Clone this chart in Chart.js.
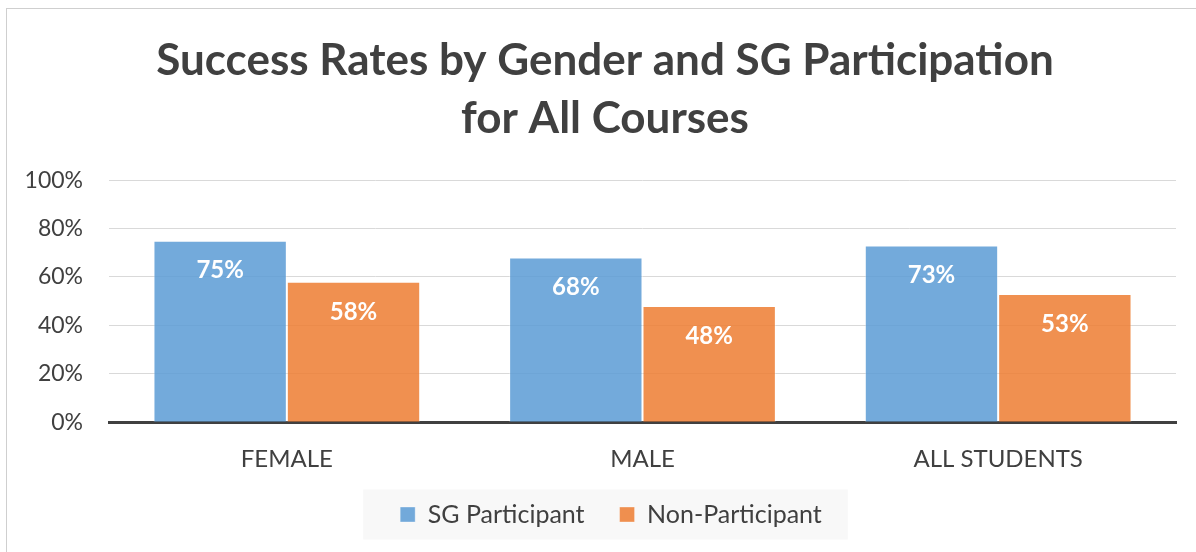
<!DOCTYPE html>
<html lang="en">
  <head>
    <meta charset="UTF-8" />
    <title>Success Rates</title>
    <script src="https://cdn.jsdelivr.net/npm/chart.js@4"></script>
    <style>
      html, body { margin: 0; padding: 0; background: #fff; overflow: hidden; width: 1196px; height: 552px; }
      #box { position: absolute; left: 6px; top: 8px; width: 1198px; height: 553px; border: 1px solid #cfcfcf; box-sizing: border-box; }
    </style>
  </head>
  <body>
    <div id="box"><canvas id="Graph"></canvas></div>

    <script>
      const categories = ['FEMALE', 'MALE', 'ALL STUDENTS'];
      const sgParticipant = [75, 68, 73];
      const nonParticipant = [58, 48, 53];
      const seriesNames = ['SG Participant', 'Non-Participant'];

      const textColor = '#404040';
      const fontFamily = 'Lato, "Open Sans", sans-serif';

      // white bold value labels inside the top of each bar
      const barLabels = {
        id: 'barLabels',
        afterDatasetsDraw(chart) {
          const ctx = chart.ctx;
          ctx.save();
          ctx.fillStyle = '#ffffff';
          ctx.font = 'bold 24px ' + fontFamily;
          ctx.textAlign = 'center';
          ctx.textBaseline = 'middle';
          chart.data.datasets.forEach((ds, i) => {
            chart.getDatasetMeta(i).data.forEach((bar, j) => {
              ctx.fillText(ds.data[j] + '%', bar.x, bar.y + 30);
            });
          });
          ctx.restore();
        }
      };

      // centre title and legend on the whole frame, not just left of the right padding
      const centreBlocks = {
        id: 'centreBlocks',
        afterLayout(chart) {
          [[chart.titleBlock, 0], [chart.legend, 12]].forEach(([b, left]) => {
            if (!b) return;
            b.left = left;
            b.right = chart.width;
            b.width = chart.width - left;
          });
        }
      };

      // light grey panel behind the legend
      const legendPanel = {
        id: 'legendPanel',
        beforeDraw(chart) {
          const boxes = chart.legend.legendHitBoxes;
          if (!boxes || !boxes.length) return;
          const left = Math.min(...boxes.map(b => b.left)) - 37;
          const right = Math.max(...boxes.map(b => b.left + b.width)) + 26;
          const cy = boxes[0].top + boxes[0].height / 2;
          const ctx = chart.ctx;
          ctx.save();
          ctx.fillStyle = '#f8f8f8';
          ctx.fillRect(left, cy - 25, right - left, 50);
          ctx.restore();
        }
      };

      const element = document.getElementById('Graph').getContext('2d');
      const Graph = new Chart(element, {
        type: 'bar',
        data: {
          labels: categories,
          datasets: [
            {
              label: seriesNames[0],
              data: sgParticipant,
              backgroundColor: 'rgba(91, 155, 213, 0.85)',
              borderColor: 'rgba(255, 255, 255, 0.35)',
              borderWidth: 1
            },
            {
              label: seriesNames[1],
              data: nonParticipant,
              backgroundColor: 'rgba(237, 125, 49, 0.85)',
              borderColor: 'rgba(255, 255, 255, 0.35)',
              borderWidth: 1
            }
          ]
        },
        options: {
          responsive: true,
          maintainAspectRatio: false,
          animation: false,
          categoryPercentage: 0.75,
          barPercentage: 1,
          layout: { padding: { left: 0, right: 27, top: 0, bottom: 23 } },
          plugins: {
            title: {
              display: true,
              text: ['Success Rates by Gender and SG Participation', 'for All Courses'],
              color: textColor,
              font: { family: fontFamily, size: 44, weight: 'bold', lineHeight: 1.32 },
              padding: { top: 23, bottom: 32 }
            },
            legend: {
              position: 'bottom',
              labels: {
                color: textColor,
                font: { family: fontFamily, size: 25 },
                boxWidth: 15,
                boxHeight: 15,
                padding: 35
              }
            },
            tooltip: { enabled: false }
          },
          scales: {
            x: {
              afterFit(scale) { scale.height = scale.height - 30; },
              grid: { display: false, drawTicks: false },
              border: { color: '#404040', width: 3 },
              ticks: { color: textColor, font: { family: fontFamily, size: 24 }, padding: 23 }
            },
            y: {
              min: 0,
              max: 100,
              afterFit(scale) { scale.width = 102; },
              grid: { color: '#d9d9d9', drawTicks: false },
              border: { display: false },
              ticks: {
                stepSize: 20,
                color: textColor,
                font: { family: fontFamily, size: 23 },
                padding: 26,
                callback: v => v + '%'
              }
            }
          }
        },
        plugins: [barLabels, centreBlocks, legendPanel]
      });
    </script>
  </body>
</html>
